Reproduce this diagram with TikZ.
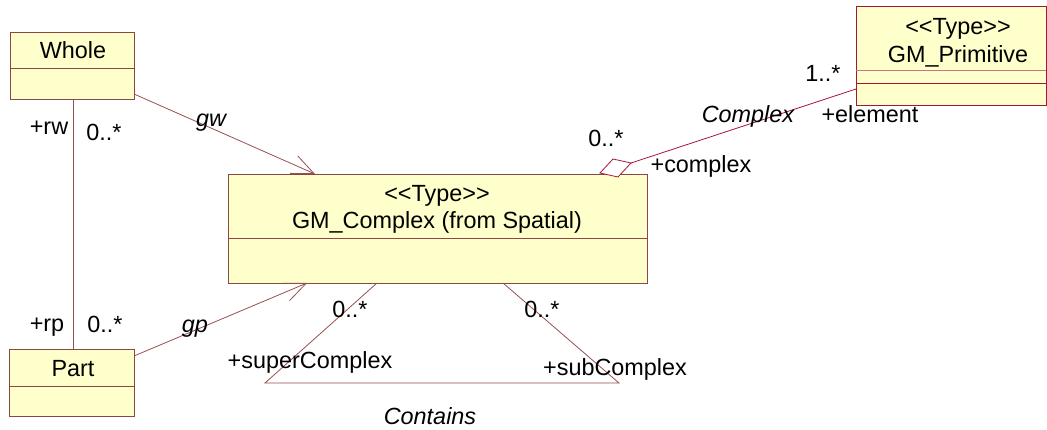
\documentclass[tikz,border=0pt]{standalone}
\usepackage{fontspec}
\setmainfont{Liberation Sans}
\usetikzlibrary{arrows.meta}
\definecolor{boxc}{RGB}{140,70,70}
\definecolor{primc}{RGB}{165,20,60}
\definecolor{fillc}{RGB}{255,255,204}
\definecolor{linec}{RGB}{150,80,80}
\newcommand{\stereo}[1]{<\kern0pt<#1>\kern0pt>}
\begin{document}
\begin{tikzpicture}[x=1pt,y=-1pt,
  font=\fontsize{23.4}{28}\selectfont,
  box/.style={draw=boxc, fill=fillc, line width=0.9pt, rectangle, inner sep=0pt, anchor=north west},
  primbox/.style={box, draw=primc},
  divider/.style={draw=boxc, line width=0.9pt},
  lbl/.style={anchor=base, inner sep=0pt},
  ilbl/.style={lbl, font=\fontsize{23.4}{28}\selectfont\itshape},
  conn/.style={draw=linec, line width=0.8pt},
  comp/.style={draw=primc, line width=0.8pt},
  openarr/.style={-{Straight Barb[length=22pt,width=19pt,line width=0.8pt]}}]
\useasboundingbox (0,0) rectangle (1047,430);

% ---- boxes ----
\node[box, minimum width=124pt, minimum height=67pt] (whole) at (10,32) {};
\draw[divider] (10,68) -- (134,68);
\node[lbl] (wholet) at (73,59) {Whole};

\node[box, minimum width=125pt, minimum height=67pt] (part) at (9,349) {};
\draw[divider] (9,386) -- (134,386);
\node[lbl] (partt) at (73,377) {Part};

\node[box, minimum width=419pt, minimum height=109pt] (cplx) at (228,174) {};
\draw[divider] (228,238) -- (647,238);
\node[lbl] (cplxs) at (437,202) {\stereo{Type}};
\node[lbl] (cplxt) at (437,229) {GM\_Complex (from Spatial)};

\node[primbox, minimum width=190pt, minimum height=99pt] (prim) at (856,6) {};
\draw[divider, draw=primc!60] (856,70) -- (1046,70);
\draw[divider, draw=primc] (856,83) -- (1046,83);
\node[lbl] (prims) at (958,35) {\stereo{Type}};
\node[lbl] (primt) at (958,63) {GM\_Primitive};

% ---- connector end points ----
\coordinate (wR) at (134,94);
\coordinate (cTopA) at (315,174);
\coordinate (pR) at (134,356);
\coordinate (cBotA) at (307,283);
\coordinate (wB) at (73,99);
\coordinate (pT) at (73,349);
\coordinate (sL) at (377,283);
\coordinate (tL) at (265,383);
\coordinate (tR) at (619,383);
\coordinate (sR) at (503,283);
\coordinate (primL) at (856,89);
\coordinate (dNear) at (631,163);
\coordinate (dTop) at (613,159);
\coordinate (dFar) at (600,173);
\coordinate (dBot) at (618,177);

% ---- connectors ----
\draw[conn, openarr] (wR) -- (cTopA);
\draw[conn, openarr] (pR) -- (cBotA);
\draw[conn] (wB) -- (pT);
\draw[conn] (sL) -- (tL) -- (tR) -- (sR);
\draw[comp] (primL) -- (dNear);
\draw[comp, fill=white, line join=miter] (dNear) -- (dTop) -- (dFar) -- (dBot) -- cycle;

% ---- labels ----
\node[lbl] (rw) at (49,135) {+rw};
\node[lbl] (m1) at (104,141) {0..*};
\node[ilbl] (gw) at (211,127) {gw};
\node[lbl] (rp) at (47,332) {+rp};
\node[lbl] (m2) at (105,333) {0..*};
\node[ilbl] (gp) at (195,333) {gp};
\node[lbl] (m3) at (350,318) {0..*};
\node[lbl] (sup) at (310,368) {+superComplex};
\node[lbl] (m4) at (542,318) {0..*};
\node[lbl] (sub) at (615,375) {+subComplex};
\node[ilbl] (contains) at (430,424) {Contains};
\node[lbl] (m5) at (823,82) {1..*};
\node[ilbl] (cx) at (748,123) {Complex};
\node[lbl] (elem) at (870,123) {+element};
\node[lbl] (m6) at (606,147) {0..*};
\node[lbl] (cxr) at (701,173) {+complex};
\end{tikzpicture}
\end{document}
